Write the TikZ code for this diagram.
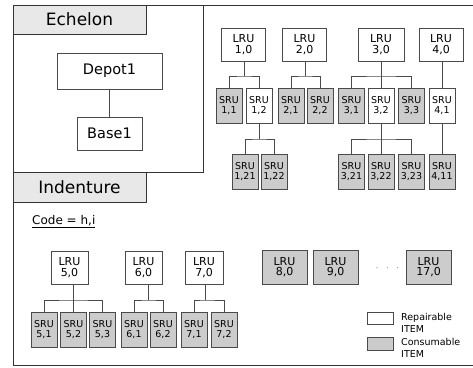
\documentclass[tikz,border=0pt]{standalone}
\usepackage{fontspec}
\setmainfont{DejaVu Sans}
\usetikzlibrary{calc}
\definecolor{lnc}{HTML}{4A4A4A}
\definecolor{frc}{HTML}{333333}
\definecolor{grayfill}{HTML}{CCCCCC}
\definecolor{titlefill}{HTML}{E8E8E8}
\tikzset{
  box/.style={draw=lnc, line width=0.9pt, rectangle, inner sep=0pt, align=center},
  lrubox/.style={box, minimum width=44pt, minimum height=33pt, font=\fontsize{11}{10.5}\selectfont},
  lrusm/.style={box, minimum width=37pt, minimum height=33pt, font=\fontsize{11}{10.5}\selectfont},
  srubox/.style={box, minimum width=26pt, minimum height=35pt, font=\fontsize{9.5}{10}\selectfont},
  cons/.style={fill=grayfill},
  rep/.style={fill=white},
  conn/.style={draw=lnc, line width=0.9pt},
  frame/.style={draw=frc, line width=1pt},
  titlebox/.style={draw=frc, line width=1pt, fill=titlefill, inner sep=0pt, font=\fontsize{17}{17}\selectfont},
}
\begin{document}
\begin{tikzpicture}[x=1pt,y=-1pt]
\useasboundingbox (0,0) rectangle (473,367);
\clip (0,0) rectangle (473,367);
% outer frame
\draw[frame] (480,5) -- (13,5) -- (13,365) -- (480,365);
% echelon panel
\draw[frame] (13,172) -- (203,172) -- (203,5);
\node[titlebox, minimum width=133pt, minimum height=29pt] (ech) at (79.5,19.5) {Echelon};
\node[titlebox, minimum width=133pt, minimum height=30pt] (ind) at (79.5,187) {Indenture};
% Depot/Base
\node[box, minimum width=105pt, minimum height=36pt, font=\fontsize{14.5}{14.5}\selectfont] (depot) at (109.5,71) {Depot1};
\node[box, minimum width=65pt, minimum height=33pt, font=\fontsize{14.5}{14.5}\selectfont] (base) at (109.5,133.5) {Base1};
\draw[conn] (depot) -- (base);
% Code label
\node[anchor=base west, inner sep=0pt, font=\fontsize{12}{12}\selectfont] (code) at (32,224) {\underline{Code = h,i}};

% ---------- top right tree ----------
\node[lrubox] (l1) at (243.5,44.5) {LRU\\1,0};
\node[lrubox] (l2) at (304.5,44.5) {LRU\\2,0};
\node[lrubox, minimum width=46pt] (l3) at (381,44.5) {LRU\\3,0};
\node[lrubox] (l4) at (441,44.5) {LRU\\4,0};

\node[srubox, cons] (s11) at (229,105.5) {SRU\\1,1};
\node[srubox, rep]  (s12) at (259,105.5) {SRU\\1,2};
\node[srubox, cons] (s21) at (291,105.5) {SRU\\2,1};
\node[srubox, cons] (s22) at (320,105.5) {SRU\\2,2};
\node[srubox, cons] (s31) at (351.5,105.5) {SRU\\3,1};
\node[srubox, rep]  (s32) at (381,105.5) {SRU\\3,2};
\node[srubox, cons] (s33) at (411.5,105.5) {SRU\\3,3};
\node[srubox, rep]  (s41) at (442,105.5) {SRU\\4,1};

\node[srubox, cons] (s121) at (245,171.5) {SRU\\1,21};
\node[srubox, cons] (s122) at (274,171.5) {SRU\\1,22};
\node[srubox, cons] (s321) at (351.5,171.5) {SRU\\3,21};
\node[srubox, cons] (s322) at (381,171.5) {SRU\\3,22};
\node[srubox, cons] (s323) at (411.5,171.5) {SRU\\3,23};
\node[srubox, cons] (s411) at (442,171.5) {SRU\\4,11};

\coordinate (m1) at (244,76);
\coordinate (m2) at (305,76);
\coordinate (m3) at (381,76);
\coordinate (m12) at (259,139);
\coordinate (m32) at (381,139);

\draw[conn] (l1.south -| m1) -- (m1);
\draw[conn] (s11.north) |- (m1) -| (s12.north);
\draw[conn] (l2.south -| m2) -- (m2);
\draw[conn] (s21.north) |- (m2) -| (s22.north);
\draw[conn] (l3.south) -- (s32.north);
\draw[conn] (s31.north) |- (m3) -| (s33.north);
\draw[conn] (l4.south -| s41.north) -- (s41.north);
\draw[conn] (s12.south) -- (m12);
\draw[conn] (s121.north) |- (m12) -| (s122.north);
\draw[conn] (s32.south) -- (s322.north);
\draw[conn] (s321.north) |- (m32) -| (s323.north);
\draw[conn] (s41.south) -- (s411.north);

% ---------- bottom tree ----------
\node[lrusm] (l5) at (69.5,267.5) {LRU\\5,0};
\node[lrusm] (l6) at (143.5,267.5) {LRU\\6,0};
\node[lrusm, minimum width=38pt] (l7) at (204,267.5) {LRU\\7,0};

\node[srubox, cons] (s51) at (44,330) {SRU\\5,1};
\node[srubox, cons] (s52) at (73.5,330) {SRU\\5,2};
\node[srubox, cons] (s53) at (102.5,330) {SRU\\5,3};
\node[srubox, cons] (s61) at (134,330) {SRU\\6,1};
\node[srubox, cons] (s62) at (163,330) {SRU\\6,2};
\node[srubox, cons] (s71) at (194,330) {SRU\\7,1};
\node[srubox, cons] (s72) at (224,330) {SRU\\7,2};

\coordinate (m5) at (73.5,300);
\coordinate (m6) at (148.5,300);
\coordinate (m7) at (205,300);
\draw[conn] (l5.south -| s52.north) -- (s52.north);
\draw[conn] (s51.north) |- (m5) -| (s53.north);
\draw[conn] (l6.south -| m6) -- (m6);
\draw[conn] (s61.north) |- (m6) -| (s62.north);
\draw[conn] (l7.south -| m7) -- (m7);
\draw[conn] (s71.north) |- (m7) -| (s72.north);

% gray LRUs
\node[lrubox, cons, minimum width=45pt, minimum height=34pt] (l8) at (284.5,267) {LRU\\8,0};
\node[lrubox, cons, minimum width=45pt, minimum height=34pt] (l9) at (335.5,267) {LRU\\9,0};
\node[lrubox, cons, minimum width=45pt, minimum height=34pt] (l17) at (428.5,267) {LRU\\17,0};
\node[inner sep=0pt, font=\fontsize{9}{9}\selectfont] (dots) at (387.5,268) {$\cdot\ \ \cdot\ \ \cdot$};

% legend
\node[box, rep, minimum width=26pt, minimum height=12pt] (legr) at (380,318) {};
\node[box, cons, minimum width=26pt, minimum height=13pt] (legc) at (380,343.5) {};
\node[anchor=west, inner sep=0pt, align=left, font=\fontsize{9.5}{12}\selectfont] (legrt) at (401,323) {Repairable\\ITEM};
\node[anchor=west, inner sep=0pt, align=left, font=\fontsize{9.5}{12}\selectfont] (legct) at (401,347.5) {Consumable\\ITEM};
\end{tikzpicture}
\end{document}
